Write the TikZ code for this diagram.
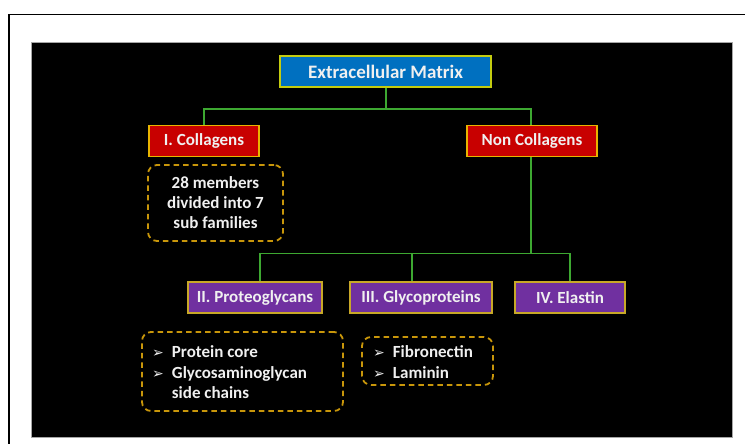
\documentclass[tikz,border=0pt]{standalone}
\usepackage{fontspec}
\setmainfont{Carlito}
\newfontfamily\dejavu{DejaVu Sans}
\definecolor{txt}{HTML}{F0F0F0}
\definecolor{bluefill}{HTML}{0070C0}
\definecolor{blueedge}{HTML}{C4CC10}
\definecolor{redfill}{HTML}{C80000}
\definecolor{rededge}{HTML}{E8B400}
\definecolor{purpfill}{HTML}{7030A0}
\definecolor{purpedge}{HTML}{C8A828}
\definecolor{conncol}{HTML}{3DA831}
\definecolor{dashcol}{HTML}{C8960A}
\newcommand{\bul}{{\dejavu\bfseries\fontsize{14}{14}\selectfont ➢}}
\begin{document}
\begin{tikzpicture}[x=1pt,y=-1pt,
  box/.style={draw, line width=1.8pt, minimum height=31pt, inner sep=0pt, text=txt,
    font=\bfseries\fontsize{17}{20}\selectfont},
  bluebox/.style={box, fill=bluefill, draw=blueedge},
  redbox/.style={box, fill=redfill, draw=rededge},
  purpbox/.style={box, fill=purpfill, draw=purpedge},
  conn/.style={draw=conncol, line width=1.8pt},
  dashbox/.style={draw=dashcol, line width=1.8pt, dash pattern=on 5.5pt off 4pt, rounded corners=9pt, inner sep=0pt},
  note/.style={text=txt, font=\bfseries\fontsize{17}{20}\selectfont, inner sep=0pt}
]
\useasboundingbox (0,0) rectangle (745,444);
\draw[line width=1.3pt] (9,444) -- (9,14.5) -- (745,14.5);
\draw[fill=black, draw=black!35, line width=0.8pt] (31,42) rectangle (732,437);

\node[bluebox, minimum width=211pt, font=\bfseries\fontsize{19}{22}\selectfont] (ecm) at (385.5,71.5) {Extracellular Matrix};
\node[redbox, minimum width=110pt] (col) at (204,141) {I. Collagens};
\node[redbox, minimum width=130pt] (ncol) at (532,141) {Non Collagens};
\node[purpbox, minimum width=134pt] (pg) at (255,297.5) {II. Proteoglycans};
\node[purpbox, minimum width=142pt] (gp) at (421,297.5) {III. Glycoproteins};
\node[purpbox, minimum width=110pt] (el) at (570,297.5) {IV. Elastin};

\coordinate (j1) at (386,109);
\coordinate (j2) at (531,253.5);
\draw[conn] (ecm.south -| j1) -- (j1);
\draw[conn] (col.north) |- (j1) -| ([xshift=-1pt]ncol.north);
\draw[conn] (ncol.south -| j2) -- (j2);
\draw[conn] ([xshift=5pt]pg.north) |- (j2) -| (el.north);
\draw[conn] ([xshift=-9pt]gp.north) -- ([xshift=-9pt]gp.north |- j2);

\node[dashbox, minimum width=135pt, minimum height=76pt] (d1) at (215.5,203) {};
\node[note, align=center] (t1) at (215.5,203) {28 members\\divided into 7\\sub families};

\node[dashbox, minimum width=201pt, minimum height=79pt] (d2) at (242.5,371.5) {};
\node[note, anchor=west] (t2) at (152,374) {\def\arraystretch{1.02}\begin{tabular}{@{}l@{\hspace{8pt}}l@{}}\bul & Protein core\\ \bul & Glycosaminoglycan\\ & side chains\end{tabular}};

\node[dashbox, minimum width=131pt, minimum height=48pt] (d3) at (427.5,361) {};
\node[note, anchor=west] (t3) at (373,364) {\def\arraystretch{1.02}\begin{tabular}{@{}l@{\hspace{8pt}}l@{}}\bul & Fibronectin\\ \bul & Laminin\end{tabular}};
\end{tikzpicture}
\end{document}
